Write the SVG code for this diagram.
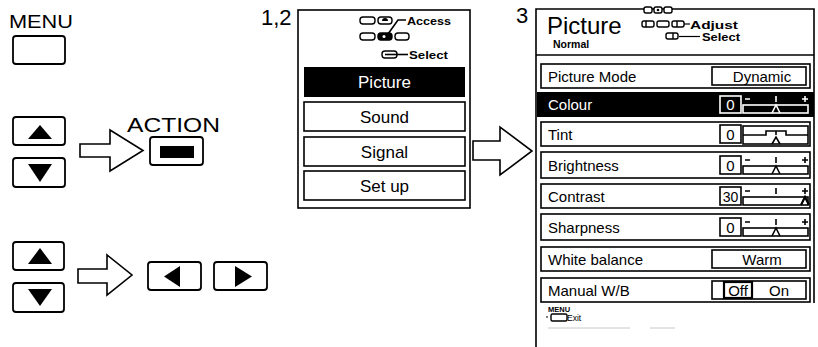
<svg xmlns="http://www.w3.org/2000/svg" width="818" height="347" viewBox="0 0 818 347">
<style>
text{font-family:"Liberation Sans",Arial,sans-serif;fill:#000}
.btn{fill:#fff;stroke:#000;stroke-width:1.8}
.row{fill:#fff;stroke:#000;stroke-width:1.6}
.ln{fill:none;stroke:#000;stroke-width:1.6}
.wl{fill:none;stroke:#fff;stroke-width:1.6}
.lbl{font-size:15px}
.itm{font-size:17px}
.ico{fill:#fff;stroke:#000;stroke-width:1.4}
.tiny{font-size:10px;font-weight:bold}
.arrow{fill:#fff;stroke:#000;stroke-width:1.6;stroke-linejoin:miter}
</style>
<rect width="818" height="347" fill="#fff"/>

<g id="menu-button">
<text x="9" y="28" font-size="18" textLength="64" lengthAdjust="spacingAndGlyphs">MENU</text>
<rect x="13" y="36" width="52" height="28" rx="3" class="btn"/>
</g>

<g id="updown-1">
<rect x="13" y="117" width="52" height="28" rx="3" class="btn"/>
<polygon points="28,139 52,139 40,125"/>
<rect x="13" y="158" width="52" height="29" rx="3" class="btn"/>
<polygon points="28,164 52,164 40,182"/>
</g>

<g id="action-button">
<text x="127" y="132" font-size="21" textLength="93" lengthAdjust="spacingAndGlyphs">ACTION</text>
<rect x="150" y="137" width="53" height="28" rx="3" class="btn"/>
<rect x="160" y="146" width="34" height="12" fill="#000"/>
</g>

<g id="updown-2">
<rect x="13" y="242" width="51" height="28" rx="3" class="btn"/>
<polygon points="28,264 52,264 40,248"/>
<rect x="13" y="283" width="51" height="29" rx="3" class="btn"/>
<polygon points="28,289 52,289 40,306"/>
</g>

<g id="leftright">
<rect x="148" y="262" width="53" height="28" rx="3" class="btn"/>
<polygon points="180,266 180,287 164,276.5"/>
<rect x="214" y="262" width="53" height="28" rx="3" class="btn"/>
<polygon points="235,266 235,287 252,276.5"/>
</g>

<g id="connectors">
<path class="arrow" d="M80,144 H110 V130 L143,150.5 L110,171 V157 H80 Z"/>
<path class="arrow" d="M78,269 H107 V255 L132,275 L107,295 V283 H78 Z"/>
<path class="arrow" d="M473,141 H500 V127 L532,151 L500,175 V160 H473 Z"/>
</g>

<g id="menu-1">
<text x="261" y="25" font-size="22">1,2</text>
<rect x="298" y="10" width="172" height="198" class="ln"/>
<rect x="360" y="17" width="15" height="7" rx="3" class="ico"/>
<rect x="378" y="17" width="14" height="7" rx="3" class="ico"/>
<path d="M382,21 a3,3 0 0 1 6,0 z" fill="#000"/>
<path class="ln" d="M388,34 L398,20 H406" stroke-width="1.2"/>
<text x="407" y="25" class="tiny" textLength="44" lengthAdjust="spacingAndGlyphs">Access</text>
<rect x="360" y="33" width="15" height="7" rx="3" class="ico"/>
<rect x="378" y="33" width="14" height="7" rx="3" fill="#000" stroke="#000" stroke-width="1.4"/>
<circle cx="384" cy="36.5" r="1.5" fill="#fff"/>
<rect x="395" y="33" width="14" height="7" rx="3" class="ico"/>
<rect x="382" y="51" width="15" height="7" rx="3" class="ico"/>
<path class="ln" d="M385,54.5 H397 H408" stroke-width="1.2"/>
<text x="409" y="59" class="tiny" textLength="39" lengthAdjust="spacingAndGlyphs">Select</text>
<rect x="304" y="67" width="161" height="30" fill="#000"/>
<text x="384.5" y="88" class="itm" text-anchor="middle" style="fill:#fff">Picture</text>
<rect x="304" y="102" width="161" height="29" class="row"/>
<text x="384.5" y="123" class="itm" text-anchor="middle">Sound</text>
<rect x="304" y="137" width="161" height="29" class="row"/>
<text x="384.5" y="158" class="itm" text-anchor="middle">Signal</text>
<rect x="304" y="171" width="161" height="29" class="row"/>
<text x="384.5" y="192" class="itm" text-anchor="middle">Set up</text>
</g>

<g id="menu-2">
<text x="516" y="23" font-size="22">3</text>
<path class="ln" d="M536,347 V9 H814 V303"/>
<text x="547" y="34" font-size="24">Picture</text>
<text x="553" y="48" font-size="10.5" font-weight="bold">Normal</text>
<rect x="644" y="7" width="8" height="6" rx="2" class="ico"/>
<rect x="654" y="7" width="8" height="6" rx="2" class="ico"/>
<circle cx="658" cy="10" r="1.3"/>
<rect x="664" y="7" width="8" height="6" rx="2" class="ico"/>
<rect x="642" y="21" width="12" height="6" rx="2" class="ico"/>
<line x1="646" y1="21" x2="646" y2="27" stroke="#000" stroke-width="1.4"/>
<rect x="657" y="21" width="12" height="6" rx="2" class="ico"/>
<rect x="672" y="21" width="12" height="6" rx="2" class="ico"/>
<line x1="677" y1="21" x2="677" y2="27" stroke="#000" stroke-width="1.4"/>
<line x1="684" y1="24" x2="690" y2="24" stroke="#000" stroke-width="1.2"/>
<text x="690" y="29" class="tiny" textLength="48" lengthAdjust="spacingAndGlyphs">Adjust</text>
<rect x="666" y="33" width="12" height="6" rx="2" class="ico"/>
<line x1="673" y1="33" x2="673" y2="39" stroke="#000" stroke-width="1.4"/>
<line x1="679" y1="36.5" x2="700" y2="36.5" stroke="#000" stroke-width="1.2"/>
<text x="702" y="41" class="tiny" textLength="38" lengthAdjust="spacingAndGlyphs">Select</text>
<line x1="536" y1="55" x2="814" y2="55" stroke="#000" stroke-width="1.6"/>

<!-- Picture Mode -->
<rect x="541" y="64" width="269" height="24" class="row"/>
<text x="548" y="82" class="lbl">Picture Mode</text>
<rect x="712" y="67" width="94" height="18" class="row"/>
<text x="762" y="82" class="lbl" text-anchor="middle">Dynamic</text>

<!-- Colour -->
<rect x="537" y="92" width="277" height="25" fill="#000"/>
<text x="548" y="110" class="lbl" style="fill:#fff">Colour</text>
<rect x="720" y="96" width="21" height="17" class="wl"/>
<text x="730.5" y="110" class="lbl" text-anchor="middle" style="fill:#fff">0</text>
<g class="wl">
<path d="M745,99 H750 M776,96 V102 M805,96 V102 M802,99 H808"/>
<rect x="743" y="105" width="65" height="8"/>
<path d="M772,113 L776,105 L780,113"/>
</g>

<!-- Tint -->
<rect x="541" y="122" width="269" height="24" class="row"/>
<text x="548" y="140" class="lbl">Tint</text>
<rect x="720" y="125" width="21" height="18" class="ln"/>
<text x="730.5" y="140" class="lbl" text-anchor="middle">0</text>
<g class="ln">
<rect x="743" y="126" width="65" height="18"/>
<path d="M743,135 H766 V131 H786 V135 H808 M776,131 V135"/>
<path d="M772,144 L776,137 L780,144"/>
</g>

<!-- Brightness -->
<rect x="541" y="152" width="269" height="26" class="row"/>
<text x="548" y="171" class="lbl">Brightness</text>
<rect x="720" y="156" width="21" height="18" class="ln"/>
<text x="730.5" y="171" class="lbl" text-anchor="middle">0</text>
<g class="ln">
<path d="M745,160 H750 M776,157 V163 M805,157 V163 M802,160 H808"/>
<rect x="743" y="166" width="65" height="8"/>
<path d="M772,174 L776,166 L780,174"/>
</g>

<!-- Contrast -->
<rect x="541" y="184" width="269" height="24" class="row"/>
<text x="548" y="202" class="lbl">Contrast</text>
<rect x="720" y="187" width="21" height="18" class="ln"/>
<text x="730.5" y="202" font-size="14" text-anchor="middle">30</text>
<g class="ln">
<path d="M745,191 H750 M776,188 V194 M805,188 V194 M802,191 H808"/>
<rect x="743" y="197" width="65" height="8"/>
<path d="M801,205 L805,197 L809,205" stroke-width="2.2"/>
</g>

<!-- Sharpness -->
<rect x="541" y="214" width="269" height="26" class="row"/>
<text x="548" y="233" class="lbl">Sharpness</text>
<rect x="720" y="218" width="21" height="18" class="ln"/>
<text x="730.5" y="233" class="lbl" text-anchor="middle">0</text>
<g class="ln">
<path d="M745,222 H750 M776,219 V225 M805,219 V225 M802,222 H808"/>
<rect x="743" y="228" width="65" height="8"/>
<path d="M772,236 L776,228 L780,236"/>
</g>

<!-- White balance -->
<rect x="541" y="247" width="269" height="24" class="row"/>
<text x="548" y="265" class="lbl">White balance</text>
<rect x="712" y="250" width="94" height="18" class="row"/>
<text x="762" y="265" class="lbl" text-anchor="middle">Warm</text>

<!-- Manual W/B -->
<rect x="541" y="278" width="269" height="24" class="row"/>
<text x="548" y="296" class="lbl">Manual W/B</text>
<rect x="712" y="281" width="94" height="18" class="row"/>
<rect x="724" y="282" width="28" height="16" fill="none" stroke="#000" stroke-width="2.2"/>
<text x="738" y="296" class="lbl" text-anchor="middle">Off</text>
<text x="779" y="296" class="lbl" text-anchor="middle">On</text>

<!-- Exit -->
<text x="548" y="312" font-size="7.5" font-weight="bold">MENU</text>
<rect x="551" y="314" width="16" height="7" rx="1.5" class="ico"/>
<line x1="547" y1="316" x2="547" y2="318" stroke="#000" stroke-width="1"/>
<text x="567" y="321" font-size="8.5">Exit</text>
<path d="M548,328 H630 M650,328 H675" stroke="#c8c8c8" stroke-width="1"/>
</g>
</svg>
